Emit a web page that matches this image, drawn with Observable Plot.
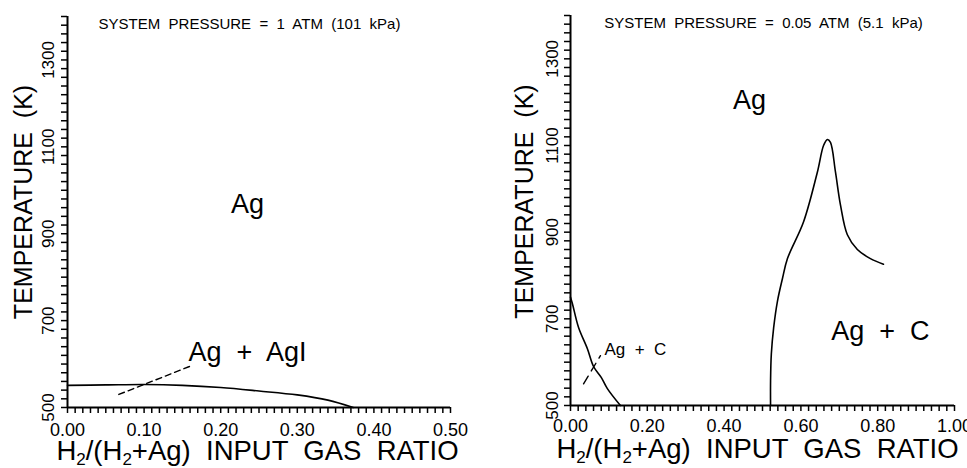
<!DOCTYPE html>
<html><head><meta charset="utf-8">
<script src="https://cdn.jsdelivr.net/npm/d3@7"></script>
<script src="https://cdn.jsdelivr.net/npm/@observablehq/plot@0.6"></script>
<style>
html,body{margin:0;padding:0;background:#fff;}
#wrap{display:flex;width:967px;height:468px;overflow:hidden;}
svg text{white-space:pre;}
</style></head><body><div id="wrap"></div>
<script>
// ---------- shared axis values ----------
const yTicks = [500, 700, 900, 1100, 1300];
const yTickLabels = ["500", "700", "900", "1100", "1300"];
const yMinorTicks = [500,520,540,560,580,600,620,640,660,680,700,720,740,760,780,800,820,840,860,880,900,920,940,960,980,1000,1020,1040,1060,1080,1100,1120,1140,1160,1180,1200,1220,1240,1260,1280,1300,1320,1340,1360,1380,1400];
const yTitle = "TEMPERATURE  (K)";
const xTitle = "H2/(H2+Ag)  INPUT  GAS  RATIO";

// ---------- left panel (1 atm) ----------
const leftTitle = "SYSTEM  PRESSURE  =  1  ATM  (101  kPa)";
const leftXTicks = [0, 0.1, 0.2, 0.3, 0.4, 0.5];
const leftXTickLabels = ["0.00", "0.10", "0.20", "0.30", "0.40", "0.50"];
const leftXMinorStep = 0.01;
const leftBoundaryX = [0, 0.05, 0.10, 0.15, 0.20, 0.25, 0.30, 0.34, 0.373];
const leftBoundaryT = [551, 552, 553, 551, 546, 538, 529, 517, 500];
const leftDashX = [0.067, 0.163];
const leftDashT = [530, 597];
const leftLabels = ["Ag", "Ag  +  AgI"];
const leftLabelX = [0.235, 0.235];
const leftLabelT = [968, 627];

// ---------- right panel (0.05 atm) ----------
const rightTitle = "SYSTEM  PRESSURE  =  0.05  ATM  (5.1  kPa)";
const rightXTicks = [0, 0.2, 0.4, 0.6, 0.8, 1.0];
const rightXTickLabels = ["0.00", "0.20", "0.40", "0.60", "0.80", "1.00"];
const rightXMinorStep = 0.02;
const rightLowX = [0, 0.005, 0.021, 0.044, 0.06, 0.08, 0.096, 0.13];
const rightLowT = [750, 735, 680, 631, 590, 565, 539, 500];
const rightPeakX = [0.521, 0.521, 0.523, 0.529, 0.539, 0.552, 0.565, 0.607, 0.643, 0.659, 0.669, 0.677, 0.690, 0.703, 0.721, 0.747, 0.781, 0.815];
const rightPeakT = [500, 557, 619, 679, 741, 793, 839, 924, 1039, 1100, 1114, 1107, 1039, 963, 894, 860, 839, 826];
const rightDashX = [0.034, 0.078];
const rightDashT = [550, 615];
const rightLabels = ["Ag", "Ag  +  C", "Ag  +  C"];
const rightLabelX = [0.466, 0.807, 0.169];
const rightLabelT = [1204, 670, 628];
const rightLabelSize = [27, 27, 17];

const FONT = "'Liberation Sans', Arial, sans-serif";
const NARROW = "'Liberation Sans Narrow', 'Liberation Sans', Arial, sans-serif";
const TICK_PX = 6;

function pts(xs, ts) { return xs.map((x, i) => ({x, t: ts[i]})); }

function panel(cfg) {
  const minor = d3.range(0, cfg.xmax + cfg.step / 2, cfg.step);
  const frameW = cfg.width - cfg.ml - cfg.mr, frameH = 468 - cfg.mt - cfg.mb;
  const yTickEnd = 500 - TICK_PX * 900 / frameH;        // tick length expressed in y units
  const xTickEnd = 0 - TICK_PX * cfg.xmax / frameW;      // tick length expressed in x units
  const lines = cfg.solid.map(s => Plot.line(s, {x: "x", y: "t", curve: "catmull-rom", stroke: "black", strokeWidth: 1.6}));
  const labels = cfg.labels.map((txt, i) => ({txt, x: cfg.labelX[i], t: cfg.labelT[i], size: cfg.labelSize ? cfg.labelSize[i] : 27}));
  const svg = Plot.plot({
    width: cfg.width, height: 468,
    marginLeft: cfg.ml, marginRight: cfg.mr, marginTop: cfg.mt, marginBottom: cfg.mb,
    x: {domain: [0, cfg.xmax], axis: null},
    y: {domain: [500, 1400], axis: null},
    style: {background: "white", color: "black", fontFamily: FONT, overflow: "visible"},
    marks: [
      Plot.ruleX(minor, {x: d => d, y1: yTickEnd, y2: 500, stroke: "black", strokeWidth: 1.5}),
      Plot.ruleY(yMinorTicks, {y: d => d, x1: xTickEnd, x2: 0, stroke: "black", strokeWidth: 1.5}),
      Plot.ruleX([0], {stroke: "black", strokeWidth: 2}),
      Plot.ruleY([500], {stroke: "black", strokeWidth: 2}),
      Plot.text(cfg.xTicks, {x: d => d, text: (d, i) => cfg.xTickLabels[i], frameAnchor: "bottom", textAnchor: "middle", lineAnchor: "middle", dy: cfg.xtdy, fontSize: 18, fontFamily: NARROW, fill: "black"}),
      Plot.text(yTicks, {y: d => d, text: (d, i) => yTickLabels[i], frameAnchor: "left", textAnchor: "middle", lineAnchor: "middle", dx: cfg.ytdx, rotate: -90, fontSize: 17, fontFamily: NARROW, fill: "black"}),
      Plot.text([yTitle], {text: d => d, frameAnchor: "left", textAnchor: "middle", lineAnchor: "middle", dx: cfg.ylx, dy: cfg.yly, rotate: -90, fontSize: 25, fill: "black"}),
      Plot.text([xTitle], {text: d => d, frameAnchor: "bottom", textAnchor: "middle", lineAnchor: "middle", dx: cfg.xlx, dy: cfg.xly, fontSize: 27.5, fill: "black"}),
      Plot.text([cfg.title], {text: d => d, frameAnchor: "top", textAnchor: "middle", lineAnchor: "middle", dx: cfg.tdx, dy: 8, fontSize: 15, fill: "black"}),
      ...lines,
      Plot.line(cfg.dash, {x: "x", y: "t", stroke: "black", strokeWidth: 1.4, strokeDasharray: cfg.dasharray}),
      Plot.text(labels, {x: "x", y: "t", text: "txt", fontSize: d => d.size, fill: "black"})
    ]
  });
  // subscripts in x title
  d3.select(svg).selectAll("text").each(function() {
    if (this.textContent === xTitle) {
      const el = d3.select(this);
      el.text("");
      const parts = [["H", 0], ["2", 1], ["/(H", 0], ["2", 1], ["+Ag)  INPUT  GAS  RATIO", 0]];
      let sub = false;
      for (const [p, s] of parts) {
        const ts = el.append("tspan").text(p);
        if (s && !sub) { ts.attr("dy", 5).attr("font-size", 17); sub = true; }
        else if (!s && sub) { ts.attr("dy", -5); sub = false; }
      }
    }
  });
  return svg;
}

const wrap = document.getElementById("wrap");
wrap.appendChild(panel({
  width: 484, ml: 67, mr: 34, mt: 16, mb: 61, xmax: 0.5, step: leftXMinorStep,
  xTicks: leftXTicks, xTickLabels: leftXTickLabels, xtdy: 23, ytdx: -19,
  ylx: -44, yly: -10, xlx: -1.5, xly: 44, title: leftTitle, tdx: -9.5,
  solid: [pts(leftBoundaryX, leftBoundaryT)],
  dash: pts(leftDashX, leftDashT), dasharray: "6,4",
  labels: leftLabels, labelX: leftLabelX, labelT: leftLabelT
}));
wrap.appendChild(panel({
  width: 483, ml: 86, mr: 13, mt: 15, mb: 63, xmax: 1.0, step: rightXMinorStep,
  xTicks: rightXTicks, xTickLabels: rightXTickLabels, xtdy: 21, ytdx: -18,
  ylx: -46, yly: -9, xlx: -5, xly: 44, title: rightTitle, tdx: 1,
  solid: [pts(rightLowX, rightLowT), pts(rightPeakX, rightPeakT)],
  dash: pts(rightDashX, rightDashT), dasharray: "9,6",
  labels: rightLabels, labelX: rightLabelX, labelT: rightLabelT, labelSize: rightLabelSize
}));
</script></body></html>
